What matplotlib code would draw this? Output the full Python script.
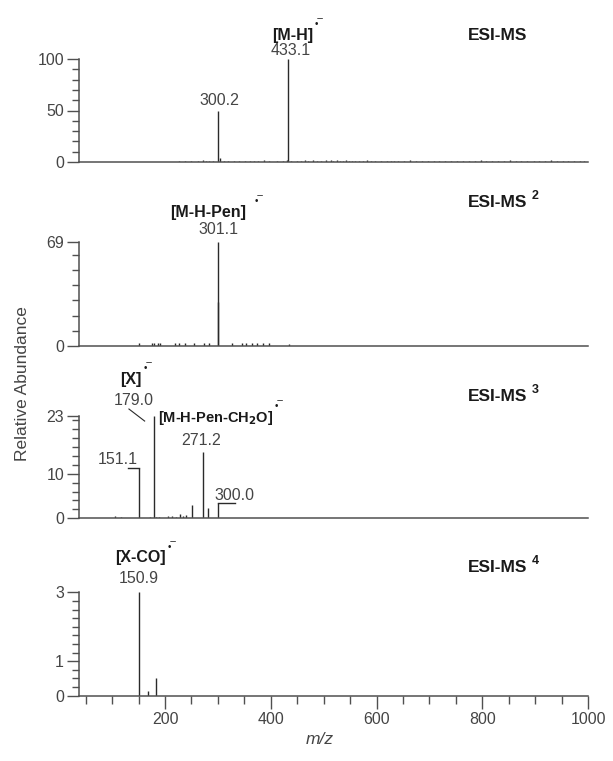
import matplotlib
matplotlib.use("Agg")
import matplotlib.pyplot as plt
from matplotlib.ticker import MultipleLocator, FixedLocator

plt.rcParams['font.family'] = ['Liberation Sans', 'DejaVu Sans']

# ESI-MS (full scan), relative abundance in %
ms1_mz = [227, 238, 249, 262, 272, 277, 283, 290, 300.2, 303,
          312, 320, 331, 340, 352, 360, 368, 375, 388, 397,
          412, 423, 431, 433.1, 438, 449, 457, 464, 471, 479,
          488, 495, 505, 514, 518, 525, 530, 536, 542, 548,
          553, 560, 567, 575, 582, 590, 597, 608, 619, 627,
          634, 641, 652, 664, 675, 686, 697, 708, 719, 730,
          741, 752, 763, 775, 786, 797, 808, 819, 830, 841,
          852, 863, 874, 885, 897, 908, 919, 930, 941, 952,
          963, 974, 985, 993]
ms1_int = [1.0, 1.0, 1.2, 1.0, 2.0, 1.2, 1.0, 1.0, 50, 4.0,
           1.0, 1.2, 1.0, 1.0, 1.0, 1.2, 1.0, 1.0, 1.5, 1.0,
           1.0, 1.2, 1.5, 100, 1.2, 1.0, 1.2, 1.5, 1.0, 1.5,
           1.2, 1.0, 1.5, 2.0, 1.2, 1.5, 1.0, 1.2, 1.5, 1.0,
           1.2, 1.0, 1.2, 1.0, 1.5, 1.0, 1.2, 1.0, 1.0, 1.2,
           1.0, 1.2, 1.0, 1.5, 1.0, 1.0, 1.2, 1.0, 1.0, 1.2,
           1.0, 1.0, 1.2, 1.0, 1.0, 1.5, 1.0, 1.0, 1.2, 1.0,
           1.5, 1.0, 1.0, 1.2, 1.0, 1.0, 1.2, 1.5, 1.0, 1.0,
           1.2, 1.0, 1.2, 1.0]

# ESI-MS2
ms2_mz = [151, 175, 179, 186, 190, 218, 226, 238, 255, 273, 284,
          300, 301.1, 327, 346, 354, 364, 374, 386, 397, 434]
ms2_int = [1.5, 1.5, 1.8, 1.8, 1.5, 1.5, 1.5, 1.5, 1.5, 1.8, 1.5,
           29, 69, 1.5, 1.5, 1.5, 1.5, 1.5, 1.5, 1.5, 1.0]

# ESI-MS3
ms3_mz = [105, 116, 151.1, 172, 179.0, 183, 188, 205, 213, 220,
          228, 234, 240, 251.6, 271.2, 281, 300.0]
ms3_int = [0.6, 0.4, 11.2, 0.3, 23, 0.4, 0.3, 0.5, 0.6, 0.4,
           0.9, 0.5, 0.7, 3.0, 14.8, 2.2, 3.4]

# ESI-MS4
ms4_mz = [150.9, 168, 183]
ms4_int = [3.0, 0.15, 0.5]

titles = ['ESI-MS', 'ESI-MS', 'ESI-MS', 'ESI-MS']
title_sup = ['', '2', '3', '4']
y_max = [100, 69, 23, 3]
y_major = [[0, 50, 100], [0, 69], [0, 10, 23], [0, 1, 3]]
y_minor = [[10, 20, 30, 40, 60, 70, 80, 90],
           [10, 20, 30, 40, 50, 60],
           [2, 4, 6, 8, 12, 14, 16, 18, 20, 22],
           [0.25, 0.5, 0.75, 1.25, 1.5, 1.75, 2, 2.25, 2.5, 2.75]]
x_lim = (38, 1000)

W, H = 613, 761
# axes boxes in pixels: top, bottom
boxes = [(59, 162), (241.7, 345.7), (415.7, 518.3), (592.3, 695.7)]
left_px, right_px = 79.4, 588

spine_c = '#505050'
peak_c = '#2a2a2a'
num_c = '#454545'
bold_c = '#1a1a1a'

fig = plt.figure(figsize=(W / 100, H / 100), dpi=100)

spectra = [(ms1_mz, ms1_int), (ms2_mz, ms2_int), (ms3_mz, ms3_int), (ms4_mz, ms4_int)]
axes = []
for i, (top, bot) in enumerate(boxes):
    ax = fig.add_axes([left_px / W, 1 - bot / H, (right_px - left_px) / W, (bot - top) / H])
    mz, inten = spectra[i]
    ax.vlines(mz, 0, inten, color=peak_c, lw=1.0)
    ax.set_xlim(*x_lim)
    ax.set_ylim(0, y_max[i])
    for s in ['top', 'right']:
        ax.spines[s].set_visible(False)
    for s in ['left', 'bottom']:
        ax.spines[s].set_color(spine_c)
        ax.spines[s].set_linewidth(1.1)
    ax.yaxis.set_major_locator(FixedLocator(y_major[i]))
    ax.yaxis.set_minor_locator(FixedLocator(y_minor[i]))
    ax.tick_params(axis='y', which='major', length=9, width=1.0, color=spine_c,
                   labelsize=11.5, labelcolor=num_c, pad=2)
    ax.tick_params(axis='y', which='minor', length=5, width=1.0, color=spine_c)
    if i < 3:
        ax.tick_params(axis='x', which='both', bottom=False, labelbottom=False)
    else:
        ax.xaxis.set_major_locator(MultipleLocator(200))
        ax.xaxis.set_minor_locator(MultipleLocator(50))
        ax.tick_params(axis='x', which='major', length=9, width=1.0, color=spine_c,
                       labelsize=11.5, labelcolor=num_c, pad=3)
        ax.tick_params(axis='x', which='minor', length=6, width=1.0, color=spine_c)
    axes.append(ax)


def num(ax, x, y, s):
    ax.text(x, y, s, ha='center', va='center', fontsize=11.5, color=num_c, clip_on=False)


def ion(ax, x, y, s, gap=1, ha='center', size=11.5):
    t = ax.text(x, y, s, ha=ha, va='center', fontsize=size, fontweight='bold',
                color=bold_c, clip_on=False)
    # radical anion mark
    ax.annotate('\u2022\u00af', xy=(1, 0.9), xycoords=t, xytext=(gap, 0),
                textcoords='offset points', ha='left', va='bottom', fontsize=7,
                color=bold_c, annotation_clip=False)
    return t


def title(ax, y, s, sup):
    t = ax.text(829, y, s, ha='center', va='center', fontsize=12.5, fontweight='bold',
                color=bold_c, clip_on=False)
    if sup:
        ax.annotate(sup, xy=(1, 0.55), xycoords=t, xytext=(3, 0),
                    textcoords='offset points', ha='left', va='bottom', fontsize=9,
                    fontweight='bold', color=bold_c, annotation_clip=False)


# panel 1
ax = axes[0]
num(ax, 302, 59.5, '300.2')
num(ax, 437, 108.5, '433.1')
ion(ax, 441, 123, '[M-H]')
title(ax, 123, titles[0], title_sup[0])

# panel 2
ax = axes[1]
num(ax, 301, 76.8, '301.1')
ion(ax, 282, 88.7, '[M-H-Pen]', gap=6)
title(ax, 95, titles[1], title_sup[1])

# panel 3
ax = axes[2]
ion(ax, 136, 31.2, '[X]')
num(ax, 140.7, 26.5, '179.0')
ax.plot([131.7, 161.4], [24.5, 21.8], color=peak_c, lw=0.8, clip_on=False)
ion(ax, 186, 22.4, '[M-H-Pen-CH$_\\mathbf{2}$O]', ha='left', size=10.5)
num(ax, 267.5, 17.5, '271.2')
num(ax, 111, 13.1, '151.1')
ax.plot([130, ms3_mz[2]], [ms3_int[2], ms3_int[2]], color=peak_c, lw=1.0)
num(ax, 331.7, 5.2, '300.0')
ax.plot([ms3_mz[-1], 331.7], [ms3_int[-1], ms3_int[-1]], color=peak_c, lw=1.0)
title(ax, 27.2, titles[2], title_sup[2])

# panel 4
ax = axes[3]
ion(ax, 154, 4.0, '[X-CO]')
num(ax, 150, 3.41, '150.9')
title(ax, 3.72, titles[3], title_sup[3])

fig.text(23 / W, 1 - 384 / H, 'Relative Abundance', rotation=90, ha='center', va='center',
         fontsize=12.5, color=num_c)
fig.text(320 / W, 1 - 740 / H, 'm/z', ha='center', va='center', fontsize=12.5,
         style='italic', color=num_c)

fig.savefig('out.png', dpi=100)
